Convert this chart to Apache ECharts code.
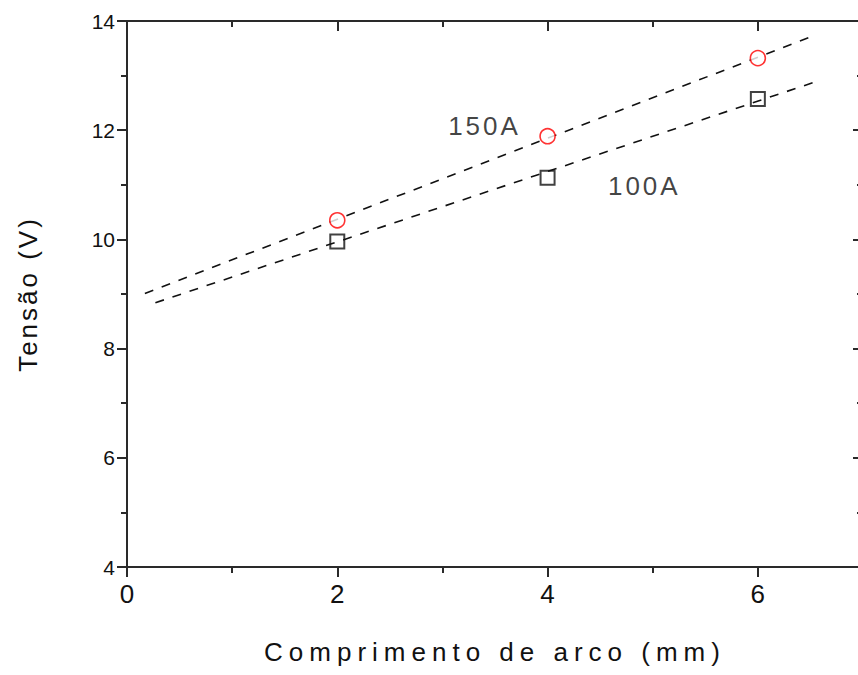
<!DOCTYPE html>
<html>
<head>
<meta charset="utf-8">
<script src="https://cdn.jsdelivr.net/npm/echarts@6/dist/echarts.min.js"></script>
<style>
html,body{margin:0;padding:0;background:#fff;}
#chart{width:858px;height:675px;}
</style>
</head>
<body>
<div id="chart"></div>
<script>
// ---- data ----
var xTitle = 'Comprimento de arco (mm)';
var yTitle = 'Tensão (V)';
var x150 = [2, 4, 6];
var y150 = [10.35, 11.89, 13.32];
var x100 = [2, 4, 6];
var y100 = [9.96, 11.13, 12.57];
var fit150X = [0.17, 6.49];
var fit150Y = [9.01, 13.70];
var fit100X = [0.27, 6.57];
var fit100Y = [8.84, 12.90];
var labelNames = ['150A', '100A'];
var labelX = [3.40, 4.92];
var labelY = [12.08, 10.97];
var xTickLabels = ['0', '2', '4', '6'];
var yTickLabels = ['4', '6', '8', '10', '12', '14'];

function pairs(xs, ys){ return xs.map(function(x,i){ return [x, ys[i]]; }); }

var chart = echarts.init(document.getElementById('chart'), null, {renderer:'svg'});
var axisCol = '#2a2a2a';
var baseAxis = {
  axisLine:{show:true, onZero:false, lineStyle:{color:axisCol, width:2}},
  splitLine:{show:false},
  minorSplitLine:{show:false}
};
var option = {
  animation:false,
  backgroundColor:'#fff',
  grid:{left:127, width:736, top:21, height:546, containLabel:false, outerBoundsMode:'none'},
  xAxis:[
    Object.assign({}, baseAxis, {
      type:'value', min:0, max:7, interval:2, position:'bottom',
      axisTick:{show:true, inside:false, length:10, lineStyle:{color:axisCol, width:2}},
      minorTick:{show:true, splitNumber:2, length:6, lineStyle:{color:axisCol, width:2}},
      axisLabel:{margin:14, color:'#111', fontSize:26, fontFamily:'Liberation Sans Narrow, Arial Narrow, sans-serif',
        formatter:function(v){ var s=String(v); return xTickLabels.indexOf(s)>=0 ? s : ''; }},
      name:xTitle, nameLocation:'middle', nameGap:72,
      nameTextStyle:{color:'#111', fontSize:26, fontFamily:'Liberation Sans, Arial, sans-serif'}
    }),
    Object.assign({}, baseAxis, {
      type:'value', min:0, max:7, interval:2, position:'top',
      axisTick:{show:true, inside:true, length:10, lineStyle:{color:axisCol, width:2}},
      minorTick:{show:true, splitNumber:2, length:6, lineStyle:{color:axisCol, width:2}},
      axisLabel:{show:false}
    })
  ],
  yAxis:[
    Object.assign({}, baseAxis, {
      type:'value', min:4, max:14, interval:2, position:'left',
      axisTick:{show:true, inside:false, length:10, lineStyle:{color:axisCol, width:2}},
      minorTick:{show:true, splitNumber:2, length:6, lineStyle:{color:axisCol, width:2}},
      axisLabel:{margin:12, color:'#111', fontSize:21, fontFamily:'Liberation Sans, Arial, sans-serif',
        formatter:function(v){ var s=String(v); return yTickLabels.indexOf(s)>=0 ? s : ''; }},
      name:yTitle, nameLocation:'middle', nameGap:86,
      nameTextStyle:{color:'#111', fontSize:26, fontFamily:'Liberation Sans, Arial, sans-serif'}
    }),
    Object.assign({}, baseAxis, {
      type:'value', min:4, max:14, interval:2, position:'right',
      axisTick:{show:true, inside:true, length:10, lineStyle:{color:axisCol, width:2}},
      minorTick:{show:true, splitNumber:2, length:6, lineStyle:{color:axisCol, width:2}},
      axisLabel:{show:false}
    })
  ],
  series:[
    {type:'line', name:'fit150', data:pairs(fit150X, fit150Y), showSymbol:false, symbol:'none',
      lineStyle:{color:'#111', width:1.6, type:[9,9]}, z:2},
    {type:'line', name:'fit100', data:pairs(fit100X, fit100Y), showSymbol:false, symbol:'none',
      lineStyle:{color:'#111', width:1.6, type:[9,9]}, z:2},
    {type:'scatter', name:'150A', data:pairs(x150, y150), symbol:'circle', symbolSize:15,
      itemStyle:{color:'#fff', borderColor:'#ff0000', borderWidth:1.6}, z:3},
    {type:'scatter', name:'100A', data:pairs(x100, y100), symbol:'rect', symbolSize:14,
      itemStyle:{color:'rgba(255,255,255,0)', borderColor:'#111', borderWidth:2}, z:3},
    {type:'scatter', name:'labels', symbolSize:0, silent:true,
      data:labelNames.map(function(n,i){ return {name:n, value:[labelX[i], labelY[i]]}; }),
      label:{show:true, position:'inside', formatter:'{b}', color:'#111', fontSize:26,
        fontFamily:'Liberation Sans, Arial, sans-serif'}, z:4}
  ]
};
chart.setOption(option);

// apply letter spacing to the titles and labels, as in the reference
function spaceText(){
  var texts = document.querySelectorAll('#chart svg text');
  texts.forEach(function(t){
    var c = t.textContent;
    if (c === xTitle) t.setAttribute('letter-spacing', '6');
    else if (c === yTitle) t.setAttribute('letter-spacing', '3');
    else if (labelNames.indexOf(c) >= 0) t.setAttribute('letter-spacing', '3');
  });
}
spaceText();
chart.on('finished', spaceText);
</script>
</body>
</html>
